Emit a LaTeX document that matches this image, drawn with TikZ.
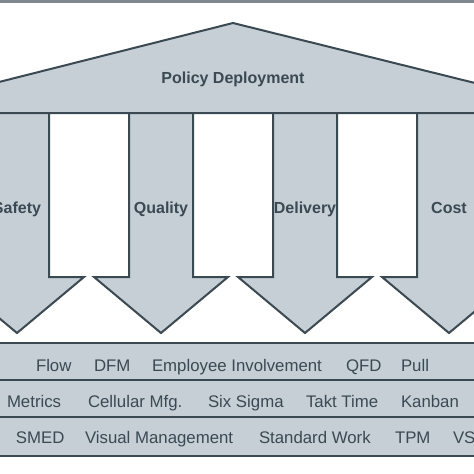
\documentclass[tikz,border=0pt]{standalone}
\usepackage{fontspec}
\setmainfont{Liberation Sans}
\definecolor{slabfill}{HTML}{C6CFD6}
\definecolor{ink}{HTML}{3B4952}
\definecolor{topbar}{HTML}{7E888F}
\begin{document}
\begin{tikzpicture}[x=1pt, y=-1pt, line width=2pt,
  slab/.style={fill=slabfill, draw=ink},
  word/.style={text=ink, font=\fontsize{16.8}{18}\selectfont, inner sep=0pt, anchor=base west},
  title/.style={text=ink, font=\fontsize{16}{18}\selectfont\bfseries, inner sep=0pt, anchor=base}]
  \useasboundingbox (0,0) rectangle (474,474);
  \clip (0,0) rectangle (474,474);
  \fill[topbar] (0,0) rectangle (474,3);

  % Pillars
  \foreach \cx/\lbl [count=\i] in {17/Safety, 161/Quality, 305/Delivery, 449/Cost} {
    \draw[slab] (\cx-32,113) -- (\cx-32,277) -- (\cx-67,277) -- (\cx,333)
      -- (\cx+67,277) -- (\cx+32,277) -- (\cx+32,113);
    \node[title] (pillar\i) at (\cx,213) {\lbl};
  }

  % Roof
  \draw[slab] (-5,83) -- (233,23) -- (479,84) -- (479,113) -- (-5,113) -- cycle;
  \node[title] (roof) at (233,83) {Policy Deployment};

  % Foundation
  \draw[slab] (-5,343) rectangle (479,380);
  \draw[slab] (-5,380) rectangle (479,417);
  \draw[slab] (-5,417) rectangle (479,456);
  \foreach \x/\t [count=\i] in {35/Flow, 93/DFM, 151/Employee Involvement, 345/QFD, 400/Pull}
    \node[word] (rowa\i) at (\x,371) {\t};
  \foreach \x/\t [count=\i] in {6/Metrics, 87/Cellular Mfg., 207/Six Sigma, 305/Takt Time, 400/Kanban}
    \node[word] (rowb\i) at (\x,407) {\t};
  \foreach \x/\t [count=\i] in {15/SMED, 84/Visual Management, 258/Standard Work, 394/TPM, 452/VSM}
    \node[word] (rowc\i) at (\x,443) {\t};
\end{tikzpicture}
\end{document}
